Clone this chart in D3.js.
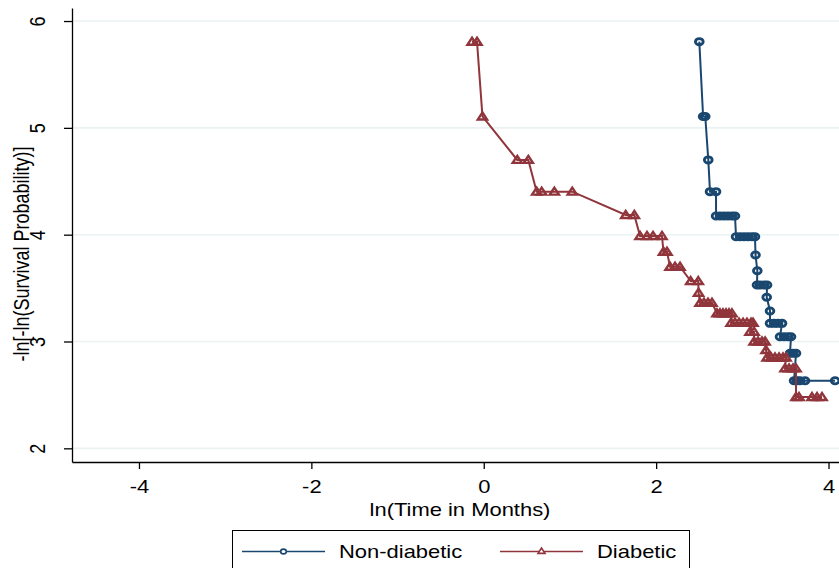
<!DOCTYPE html>
<html>
<head>
<meta charset="utf-8">
<script src="https://cdn.jsdelivr.net/npm/d3@7/dist/d3.min.js"></script>
<style>
  html, body { margin: 0; padding: 0; background: #fff; }
  svg { display: block; font-family: "Liberation Sans", Arial, sans-serif; }
</style>
</head>
<body>
<svg id="chart" width="839" height="568"></svg>
<script>
/* data: x = ln(time), y = -ln(-ln(S)) */
var nonDiabX = [2.501, 2.545, 2.570, 2.605, 2.625, 2.695,
                2.695, 2.741, 2.788, 2.834, 2.880, 2.915,
                2.927, 2.973, 3.020, 3.066, 3.112, 3.147,
                3.153, 3.174, 3.170, 3.205, 3.252, 3.287, 3.283, 3.321,
                3.321, 3.368, 3.414, 3.461, 3.437, 3.484, 3.530, 3.565,
                3.553, 3.588, 3.623, 3.600, 3.635, 3.670, 3.728, 4.076];
var nonDiabY = [5.807, 5.107, 5.107, 4.700, 4.403, 4.403,
                4.175, 4.175, 4.175, 4.175, 4.175, 4.175,
                3.980, 3.980, 3.980, 3.980, 3.980, 3.980,
                3.810, 3.663, 3.529, 3.529, 3.529, 3.529, 3.414, 3.286,
                3.170, 3.170, 3.170, 3.170, 3.045, 3.045, 3.045, 3.045,
                2.890, 2.890, 2.890, 2.633, 2.633, 2.633, 2.633, 2.633];

var diabX = [-0.136, -0.078, -0.015, 0.389, 0.517, 0.614, 0.672, 0.819, 1.027, 1.647,
             1.747, 1.813, 1.894, 1.964, 2.068, 2.085, 2.126, 2.161, 2.219, 2.277,
             2.401, 2.489, 2.492, 2.509, 2.555, 2.602, 2.648,
             2.706, 2.741, 2.776, 2.811, 2.846, 2.880,
             2.869, 2.915, 2.962, 3.008, 3.054, 3.101, 3.124,
             3.089, 3.136, 3.136, 3.182, 3.228, 3.264, 3.275,
             3.287, 3.333, 3.379, 3.426, 3.472, 3.507,
             3.495, 3.542, 3.588, 3.623,
             3.623, 3.658, 3.809, 3.867, 3.925];
var diabY = [5.806, 5.806, 5.107, 4.700, 4.700, 4.403, 4.403, 4.403, 4.403, 4.184,
             4.184, 3.988, 3.988, 3.988, 3.988, 3.840, 3.840, 3.700, 3.700, 3.700,
             3.566, 3.566, 3.457, 3.363, 3.363, 3.363, 3.363,
             3.264, 3.264, 3.264, 3.264, 3.264, 3.264,
             3.176, 3.176, 3.176, 3.176, 3.176, 3.176, 3.176,
             3.092, 3.092, 3.000, 3.000, 3.000, 3.000, 2.920,
             2.850, 2.850, 2.850, 2.850, 2.850, 2.850,
             2.749, 2.749, 2.749, 2.749,
             2.480, 2.480, 2.480, 2.480, 2.480];

var xTicks = [-4, -2, 0, 2, 4];
var yTicks = [2, 3, 4, 5, 6];
var seriesNames = ["Non-diabetic", "Diabetic"];
var xTitle = "ln(Time in Months)";
var yTitle = "-ln[-ln(Survival Probability)]";

var blue = "#1a476f", red = "#90353b", grid = "#eaf2f3";
var sx = 1.22; // picture is stretched sideways

var svg = d3.select("#chart"),
    pLeft = 72, pRight = 848, pTop = 8, pBottom = 462;

var x = d3.scaleLinear().domain([-4.777, 4.226]).range([pLeft, pRight]);
var y = d3.scaleLinear().domain([1.872, 6.122]).range([pBottom, pTop]);
var fmt = function(d) { return String(d); };

// grid
svg.append("g").selectAll("line")
  .data(yTicks)
  .enter().append("line")
    .attr("x1", pLeft).attr("x2", pRight)
    .attr("y1", function(d) { return y(d); })
    .attr("y2", function(d) { return y(d); })
    .attr("stroke", grid).attr("stroke-width", 1.6);

// axes
var gx = svg.append("g")
    .attr("transform", "translate(0," + pBottom + ")")
    .call(d3.axisBottom(x).tickValues(xTicks).tickSize(7).tickSizeOuter(0).tickFormat(fmt));
gx.selectAll("text")
    .attr("y", 0).attr("dy", 0)
    .attr("transform", "translate(0,31) scale(" + sx + ",1)");

var gy = svg.append("g")
    .attr("transform", "translate(" + pLeft + ",0)")
    .call(d3.axisLeft(y).tickValues(yTicks).tickSize(8).tickSizeOuter(0).tickFormat(fmt));
gy.selectAll("text")
    .attr("x", 0).attr("dy", 0)
    .attr("text-anchor", "middle")
    .attr("transform", "translate(-27,0) rotate(-90) scale(1," + sx + ")");

svg.selectAll(".domain, .tick line").attr("stroke", "#000").attr("stroke-width", 1.3);
svg.selectAll(".tick text").attr("font-size", 18).attr("fill", "#000")
   .attr("font-family", "Liberation Sans, Arial, sans-serif");

// titles
svg.append("text")
    .attr("transform", "translate(460,516) scale(" + sx + ",1)")
    .attr("text-anchor", "middle").attr("font-size", 18)
    .text(xTitle);
svg.append("text")
    .attr("transform", "translate(29,254) rotate(-90) scale(1," + sx + ")")
    .attr("text-anchor", "middle").attr("font-size", 18)
    .text(yTitle);

// series
function pts(xs, ys) {
  return xs.map(function(d, i) { return [d, ys[i]]; });
}
var line = d3.line()
    .x(function(d) { return x(d[0]); })
    .y(function(d) { return y(d[1]); });

var tri = "M0,-4L4.6,3L-4.6,3Z";

function drawSeries(data, color, shape) {
  var g = svg.append("g");
  g.append("path")
    .attr("d", line(data))
    .attr("fill", "none").attr("stroke", color).attr("stroke-width", 2);
  var m = g.selectAll(".m").data(data).enter();
  if (shape == "circle") {
    m.append("ellipse")
      .attr("cx", function(d) { return x(d[0]); })
      .attr("cy", function(d) { return y(d[1]); })
      .attr("rx", 3.9).attr("ry", 3.1)
      .attr("fill", "none").attr("stroke", color).attr("stroke-width", 2.8);
  } else {
    m.append("path")
      .attr("d", tri)
      .attr("transform", function(d) { return "translate(" + x(d[0]) + "," + y(d[1]) + ")"; })
      .attr("fill", "none").attr("stroke", color).attr("stroke-width", 2.4);
  }
}
drawSeries(pts(nonDiabX, nonDiabY), blue, "circle");
drawSeries(pts(diabX, diabY), red, "triangle");

// legend
var lg = svg.append("g");
lg.append("rect")
    .attr("x", 232.5).attr("y", 530.5).attr("width", 457).attr("height", 60)
    .attr("fill", "#fff").attr("stroke", "#000").attr("stroke-width", 1);
var items = [
  {name: seriesNames[0], color: blue, x0: 242, x1: 325, tx: 339},
  {name: seriesNames[1], color: red, x0: 500, x1: 583, tx: 597}
];
items.forEach(function(it, i) {
  lg.append("line")
    .attr("x1", it.x0).attr("x2", it.x1).attr("y1", 551.5).attr("y2", 551.5)
    .attr("stroke", it.color).attr("stroke-width", 1.6);
  var cx = (it.x0 + it.x1) / 2;
  if (i == 0) {
    lg.append("ellipse").attr("cx", cx).attr("cy", 551.5).attr("rx", 2.8).attr("ry", 2.4)
      .attr("fill", "#fff").attr("stroke", it.color).attr("stroke-width", 1.6);
  } else {
    lg.append("path").attr("d", "M0,-3L3.5,2.4L-3.5,2.4Z")
      .attr("transform", "translate(" + cx + ",551)")
      .attr("fill", "#fff").attr("stroke", it.color).attr("stroke-width", 1.6);
  }
  lg.append("text")
    .attr("transform", "translate(" + it.tx + ",557.5) scale(" + sx + ",1)")
    .attr("font-size", 18)
    .text(it.name);
});
</script>
</body>
</html>
